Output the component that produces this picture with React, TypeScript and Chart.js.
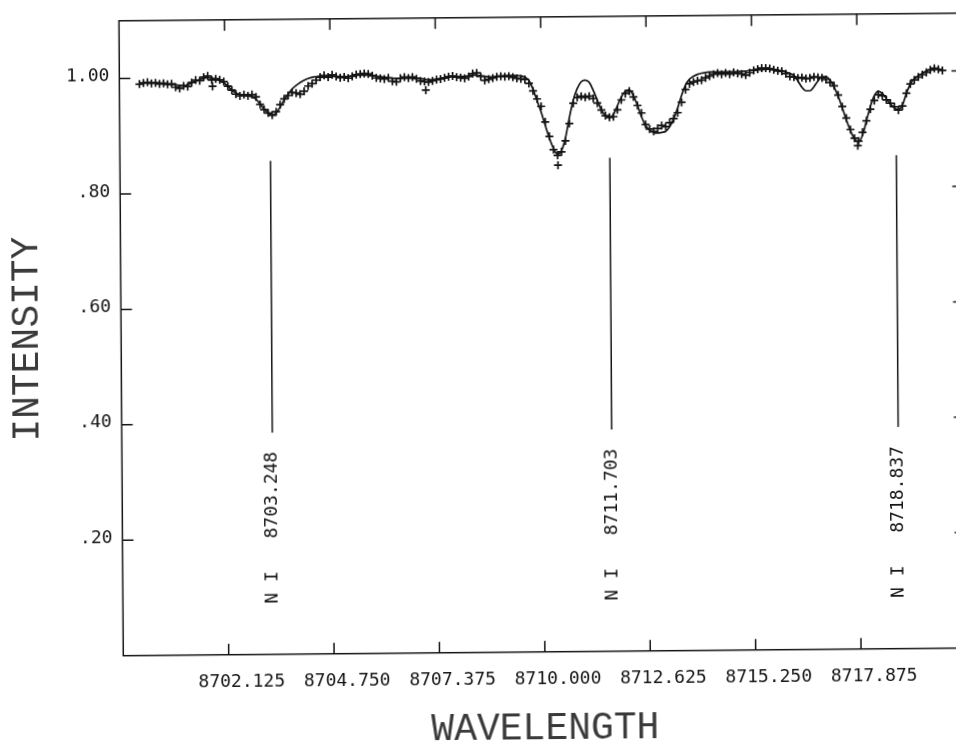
import React, { useEffect, useRef } from 'react';
import { Chart, registerables } from 'chart.js';

Chart.register(...registerables);

// ---------- data ----------
const WAVE_START = 8700.0;
const WAVE_STEP = 0.1;

// observed intensities (crosses), one per 0.1 A from 8700.0 to 8720.0
const OBSERVED = [
  0.990, 0.992, 0.993, 0.991, 0.992, 0.990, 0.991, 0.989, 0.990, 0.984,
  0.982, 0.986, 0.985, 0.992, 0.996, 0.995, 1.001, 1.003, 0.996, 0.998,
  0.996, 0.993, 0.985, 0.978, 0.971, 0.968, 0.970, 0.968, 0.970, 0.966,
  0.953, 0.944, 0.938, 0.934, 0.940, 0.952, 0.962, 0.968, 0.973, 0.972,
  0.970, 0.975, 0.984, 0.988, 0.994, 0.999, 1.002, 0.999, 1.003, 1.000,
  0.998, 0.999, 0.997, 1.000, 1.003, 1.004, 1.005, 1.004, 1.001, 0.997,
  0.996, 0.995, 0.997, 0.991, 0.990, 0.996, 0.998, 0.996, 0.998, 0.995,
  0.991, 0.990, 0.989, 0.991, 0.993, 0.994, 0.996, 0.998, 0.999, 0.997,
  0.996, 0.995, 0.998, 1.003, 1.004, 0.998, 0.991, 0.993, 0.995, 0.997,
  0.998, 0.997, 0.998, 0.996, 0.994, 0.993, 0.992, 0.985, 0.972, 0.958,
  0.945, 0.918, 0.893, 0.870, 0.860, 0.866, 0.885, 0.915, 0.950, 0.960,
  0.962, 0.960, 0.962, 0.958, 0.950, 0.938, 0.928, 0.925, 0.926, 0.938,
  0.955, 0.966, 0.970, 0.960, 0.945, 0.932, 0.912, 0.904, 0.900, 0.905,
  0.910, 0.908, 0.915, 0.922, 0.932, 0.950, 0.972, 0.982, 0.985, 0.987,
  0.988, 0.992, 0.995, 0.998, 1.000, 0.998, 1.000, 0.998, 1.001, 0.999,
  0.998, 0.996, 1.000, 1.004, 1.006, 1.008, 1.008, 1.007, 1.005, 1.003,
  1.002, 0.998, 0.993, 0.992, 0.990, 0.991, 0.989, 0.990, 0.992, 0.991,
  0.990, 0.987, 0.982, 0.976, 0.960, 0.940, 0.920, 0.900, 0.885, 0.880,
  0.895, 0.915, 0.935, 0.950, 0.960, 0.958, 0.951, 0.945, 0.939, 0.933,
  0.940, 0.962, 0.978, 0.985, 0.990, 0.994, 0.998, 1.002, 1.005, 1.003,
  1.001,
];

// fitted synthetic spectrum (solid line), same wavelength grid
const FIT = [
  0.991, 0.991, 0.992, 0.992, 0.992, 0.991, 0.991, 0.990, 0.989, 0.988,
  0.987, 0.987, 0.988, 0.991, 0.994, 0.997, 0.999, 1.000, 0.999, 0.998,
  0.995, 0.991, 0.985, 0.978, 0.973, 0.970, 0.969, 0.968, 0.966, 0.962,
  0.954, 0.945, 0.938, 0.934, 0.938, 0.948, 0.960, 0.970, 0.979, 0.985,
  0.990, 0.994, 0.997, 0.999, 1.000, 1.001, 1.001, 1.001, 1.001, 1.000,
  1.000, 1.000, 1.000, 1.001, 1.002, 1.002, 1.002, 1.002, 1.001, 1.000,
  0.999, 0.998, 0.997, 0.996, 0.996, 0.996, 0.997, 0.997, 0.997, 0.996,
  0.995, 0.994, 0.993, 0.993, 0.994, 0.995, 0.996, 0.997, 0.998, 0.998,
  0.998, 0.998, 0.999, 1.000, 1.000, 0.999, 0.998, 0.997, 0.997, 0.998,
  0.998, 0.999, 0.999, 0.999, 0.999, 0.998, 0.996, 0.990, 0.975, 0.955,
  0.935, 0.912, 0.890, 0.872, 0.862, 0.868, 0.890, 0.925, 0.955, 0.975,
  0.987, 0.990, 0.986, 0.972, 0.955, 0.938, 0.928, 0.925, 0.930, 0.945,
  0.960, 0.970, 0.972, 0.962, 0.945, 0.925, 0.910, 0.902, 0.898, 0.897,
  0.898, 0.900, 0.908, 0.922, 0.940, 0.962, 0.980, 0.990, 0.995, 0.998,
  1.000, 1.001, 1.002, 1.002, 1.002, 1.002, 1.002, 1.002, 1.002, 1.002,
  1.003, 1.003, 1.004, 1.004, 1.005, 1.005, 1.006, 1.006, 1.005, 1.004,
  1.003, 1.001, 0.998, 0.995, 0.985, 0.974, 0.968, 0.968, 0.975, 0.985,
  0.992, 0.992, 0.986, 0.974, 0.958, 0.938, 0.917, 0.898, 0.884, 0.879,
  0.890, 0.915, 0.940, 0.958, 0.966, 0.962, 0.953, 0.944, 0.937, 0.934,
  0.942, 0.962, 0.978, 0.987, 0.992, 0.996, 1.000, 1.003, 1.005, 1.004,
  1.002,
];

// stray observed points off the regular grid
const OUTLIER_WAVE = [8701.82, 8707.13, 8710.41, 8717.88];
const OUTLIER_INT = [0.985, 0.975, 0.843, 0.872];

// identified lines
const LINE_WAVELENGTHS = [8703.248, 8711.703, 8718.837];
const LINE_LABELS = ['8703.248', '8711.703', '8718.837'];
const LINE_ELEMENT = 'N I';
const MARKER_BOTTOM = 0.384;
const MARKER_TOP = 0.855;
const LABEL_LEVEL = 0.276;
const ELEMENT_LEVEL = 0.116;

// axes
const X_MIN = 8699.5;
const X_MAX = 8720.5;
const X_TICKS = [8702.125, 8704.75, 8707.375, 8710.0, 8712.625, 8715.25, 8717.875];
const X_TICK_LABELS = ['8702.125', '8704.750', '8707.375', '8710.000', '8712.625', '8715.250', '8717.875'];
const Y_MIN = 0;
const Y_MAX = 1.1;
const Y_TICKS = [0.2, 0.4, 0.6, 0.8, 1.0];
const Y_TICK_LABELS = ['.20', '.40', '.60', '.80', '1.00'];

const INK = '#141414';
const MONO = '"DejaVu Sans Mono", "Liberation Mono", monospace';
const TITLE_FONT = '"Liberation Mono", "DejaVu Sans Mono", monospace';

const framePlugin = {
  id: 'frame',
  afterDatasetsDraw(chart: any) {
    const { ctx, chartArea: a, scales } = chart;
    const x = scales.x;
    const y = scales.y;
    ctx.save();
    ctx.strokeStyle = INK;
    ctx.lineWidth = 1.5;
    ctx.strokeRect(a.left, a.top, a.right - a.left, a.bottom - a.top);
    const T = 11;
    ctx.beginPath();
    for (const v of X_TICKS) {
      const px = x.getPixelForValue(v);
      ctx.moveTo(px, a.bottom);
      ctx.lineTo(px, a.bottom - T);
      ctx.moveTo(px, a.top);
      ctx.lineTo(px, a.top + T);
    }
    for (const v of Y_TICKS) {
      const py = y.getPixelForValue(v);
      ctx.moveTo(a.left, py);
      ctx.lineTo(a.left + T, py);
      ctx.moveTo(a.right, py);
      ctx.lineTo(a.right - T, py);
    }
    ctx.stroke();

    ctx.fillStyle = INK;
    ctx.font = `18px ${MONO}`;
    ctx.textAlign = 'center';
    ctx.textBaseline = 'middle';
    LINE_WAVELENGTHS.forEach((w, i) => {
      const px = x.getPixelForValue(w);
      const items: [string, number][] = [
        [LINE_LABELS[i], LABEL_LEVEL],
        [LINE_ELEMENT, ELEMENT_LEVEL],
      ];
      for (const [t, lv] of items) {
        ctx.save();
        ctx.translate(px, y.getPixelForValue(lv));
        ctx.rotate(-Math.PI / 2);
        ctx.fillText(t, 0, 0);
        ctx.restore();
      }
    });
    ctx.restore();
  },
};

export default function App() {
  const ref = useRef<HTMLCanvasElement>(null);

  useEffect(() => {
    const canvas = ref.current;
    if (!canvas) return;
    const waves = OBSERVED.map((_, i) => +(WAVE_START + i * WAVE_STEP).toFixed(2));
    const observedPts = waves
      .map((w, i) => ({ x: w, y: OBSERVED[i] }))
      .concat(OUTLIER_WAVE.map((w, i) => ({ x: w, y: OUTLIER_INT[i] })));
    const fitPts = waves.map((w, i) => ({ x: w, y: FIT[i] }));
    const markerSets = LINE_WAVELENGTHS.map((w) => ({
      data: [
        { x: w, y: MARKER_BOTTOM },
        { x: w, y: MARKER_TOP },
      ],
      showLine: true,
      borderColor: INK,
      borderWidth: 1.5,
      pointRadius: 0,
    }));

    const chart = new Chart(canvas, {
      type: 'scatter',
      data: {
        datasets: [
          {
            data: fitPts,
            showLine: true,
            borderColor: INK,
            borderWidth: 1.7,
            pointRadius: 0,
            cubicInterpolationMode: 'monotone',
          } as any,
          {
            data: observedPts,
            showLine: false,
            pointStyle: 'cross',
            pointRadius: 4,
            borderColor: INK,
            backgroundColor: INK,
            borderWidth: 1.7,
          } as any,
          ...(markerSets as any[]),
        ],
      },
      options: {
        responsive: false,
        animation: false,
        devicePixelRatio: 1,
        events: [],
        layout: { padding: { top: 20.45, right: 33.55, left: 0, bottom: 0 } },
        plugins: { legend: { display: false }, tooltip: { enabled: false } },
        scales: {
          x: {
            type: 'linear',
            min: X_MIN,
            max: X_MAX,
            afterBuildTicks: (s: any) => {
              s.ticks = X_TICKS.map((v) => ({ value: v }));
            },
            afterFit: (s: any) => {
              s.height = 124.3;
            },
            grid: { display: false, drawTicks: false },
            border: { display: false },
            ticks: {
              autoSkip: false,
              maxRotation: 0,
              minRotation: 0,
              padding: 16.5,
              labelOffset: 13,
              color: INK,
              font: { family: MONO, size: 18 },
              callback: (v: any) => X_TICK_LABELS[X_TICKS.indexOf(Number(v))] ?? '',
            },
            title: {
              display: true,
              text: 'WAVELENGTH',
              color: '#3a3a3a',
              font: { family: TITLE_FONT, size: 38 },
              padding: { top: 0, bottom: 24.5 },
            },
          },
          y: {
            type: 'linear',
            min: Y_MIN,
            max: Y_MAX,
            afterBuildTicks: (s: any) => {
              s.ticks = Y_TICKS.map((v) => ({ value: v }));
            },
            afterFit: (s: any) => {
              s.width = 123.3;
            },
            grid: { display: false, drawTicks: false },
            border: { display: false },
            ticks: {
              autoSkip: false,
              padding: 10,
              labelOffset: -2,
              color: INK,
              font: { family: MONO, size: 18 },
              callback: (v: any) => {
                const i = Y_TICKS.findIndex((t) => Math.abs(t - Number(v)) < 1e-6);
                return i >= 0 ? Y_TICK_LABELS[i] : '';
              },
            },
            title: {
              display: true,
              text: 'INTENSITY',
              color: '#3a3a3a',
              font: { family: TITLE_FONT, size: 38 },
              padding: { top: 7, bottom: 0 },
            },
          },
        },
      } as any,
      plugins: [framePlugin],
    });
    return () => chart.destroy();
  }, []);

  return (
    <div
      style={{
        position: 'fixed',
        left: 0,
        top: 0,
        width: 956,
        height: 743,
        overflow: 'hidden',
        background: '#fff',
      }}
    >
      <canvas
        ref={ref}
        width={1000}
        height={780}
        style={{
          display: 'block',
          width: 1000,
          height: 780,
          transform: 'matrix(1, -0.0091, 0.0068, 1, 0, 0)',
          transformOrigin: '123.3px 655.7px',
        }}
      />
    </div>
  );
}
